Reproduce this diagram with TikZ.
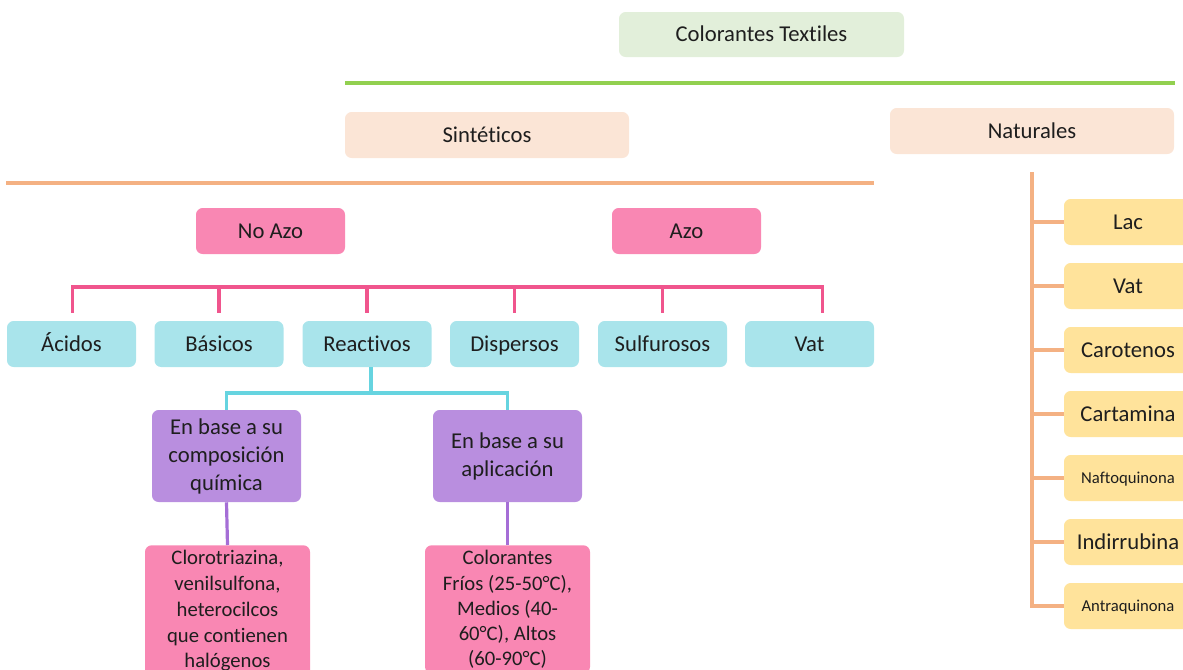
\documentclass[tikz,border=0pt]{standalone}
\usepackage{fontspec}
\setmainfont{Carlito}[Ligatures=NoCommon]
\definecolor{txt}{HTML}{1E1E1E}
\definecolor{gfill}{HTML}{E2EFDA}
\definecolor{gline}{HTML}{92D050}
\definecolor{pfill}{HTML}{FBE5D6}
\definecolor{oline}{HTML}{F4B183}
\definecolor{kfill}{HTML}{F987B3}
\definecolor{kline}{HTML}{F0558D}
\definecolor{cfill}{HTML}{A9E4EB}
\definecolor{cline}{HTML}{66D4E0}
\definecolor{ufill}{HTML}{B98EDF}
\definecolor{uline}{HTML}{A56ED6}
\definecolor{yfill}{HTML}{FFE39B}
\tikzset{
  box/.style={rounded corners=5pt, text=txt, align=center, inner sep=0pt,
    font=\fontsize{17}{21}\selectfont},
  one/.style={text height=13.2pt, text depth=2.5pt},
  lnk/.style={line width=2.4pt},
}
\begin{document}
\begin{tikzpicture}[x=0.75pt,y=-0.75pt]
\useasboundingbox (0,0) rectangle (1183,669);
\clip (0,0) rectangle (1183,669);
% top level
\node[box, one, fill=gfill, minimum width=285*0.75pt, minimum height=45*0.75pt] (ct) at (761.5,34.5) {Colorantes Textiles};
\draw[lnk, gline] (345,83) coordinate (gl) -- (1175,83) coordinate (gr);
\node[box, one, fill=pfill, minimum width=284*0.75pt, minimum height=46*0.75pt] (sint) at (487,135) {Sintéticos};
\node[box, one, fill=pfill, minimum width=284*0.75pt, minimum height=46*0.75pt] (nat) at (1032,131) {Naturales};
\draw[lnk, oline] (6,183) coordinate (ol) -- (874,183) coordinate (or);
% azo
\node[box, one, fill=kfill, minimum width=149*0.75pt, minimum height=46*0.75pt] (noazo) at (270.5,231) {No Azo};
\node[box, one, fill=kfill, minimum width=149*0.75pt, minimum height=46*0.75pt] (azo) at (686.5,231) {Azo};
% cyan row
\tikzset{cy/.style={box, one, fill=cfill, minimum width=129*0.75pt, minimum height=46*0.75pt}}
\node[cy] (acid) at (71.5,344) {Ácidos};
\node[cy] (basic) at (219,344) {Básicos};
\node[cy] (react) at (367,344) {Reactivos};
\node[cy] (disp) at (514.5,344) {Dispersos};
\node[cy] (sulf) at (662.5,344) {Sulfurosos};
\node[cy] (vat) at (809.5,344) {Vat};
\coordinate (bus) at (0,287);
\draw[lnk, kline] ([xshift=1pt,yshift=6pt]acid.north) -- ([xshift=1pt]acid.north |- bus) -- ([xshift=9.5pt]vat.north |- bus) -- ([xshift=9.5pt,yshift=6pt]vat.north);
\foreach \n in {basic,react,disp,sulf} \draw[lnk, kline] ([yshift=6pt]\n.north) -- (\n.north |- bus);
% purple
\node[box, fill=ufill, minimum width=149*0.75pt, minimum height=92*0.75pt] (comp) at (226.5,456) {En base a su\\composición\\química};
\node[box, fill=ufill, minimum width=149*0.75pt, minimum height=92*0.75pt] (apl) at (507.5,456) {En base a su\\aplicación};
\coordinate (cbus) at (0,393);
\draw[lnk, cline] ([xshift=3pt]react.south) -- ([xshift=3pt]react.south |- cbus);
\draw[lnk, cline] (comp.north) -- (comp.north |- cbus) -- (apl.north |- cbus) -- (apl.north);
% bottom pink
\node[box, fill=kfill, minimum width=165*0.75pt, anchor=north, inner ysep=4pt, font=\fontsize{15.5}{19.3}\selectfont] (clor) at (227.5,545) {Clorotriazina,\\venilsulfona,\\heterocilcos\\que contienen\\halógenos};
\node[box, fill=kfill, minimum width=165*0.75pt, anchor=north, inner ysep=4pt, font=\fontsize{15.5}{18.8}\selectfont] (frios) at (507.5,545) {Colorantes\\Fríos (25-50°C),\\Medios (40-\\60°C), Altos\\(60-90°C)};
\draw[lnk, uline] (comp.south) -- (clor.north);
\draw[lnk, uline] (apl.south) -- (frios.north);
% naturales
\tikzset{ye/.style={box, one, fill=yfill, minimum width=128*0.75pt, minimum height=46*0.75pt}}
\node[ye] (lac) at (1128,222) {Lac};
\node[ye] (nvat) at (1128,286) {Vat};
\node[ye] (caro) at (1128,350) {Carotenos};
\node[ye] (cart) at (1128,414) {Cartamina};
\node[ye, font=\fontsize{12.5}{15}\selectfont, text height=10pt, text depth=2pt] (nafto) at (1128,478) {Naftoquinona};
\node[ye] (indi) at (1128,542) {Indirrubina};
\node[ye, font=\fontsize{12.5}{15}\selectfont, text height=10pt, text depth=2pt] (antra) at (1128,606) {Antraquinona};
\draw[lnk, oline] ([yshift=-13.5pt]nat.south) -- (nat.south |- antra.west) -- (antra.west);
\foreach \n in {lac,nvat,caro,cart,nafto,indi} \draw[lnk, oline] (nat.south |- \n.west) -- (\n.west);
\end{tikzpicture}
\end{document}
